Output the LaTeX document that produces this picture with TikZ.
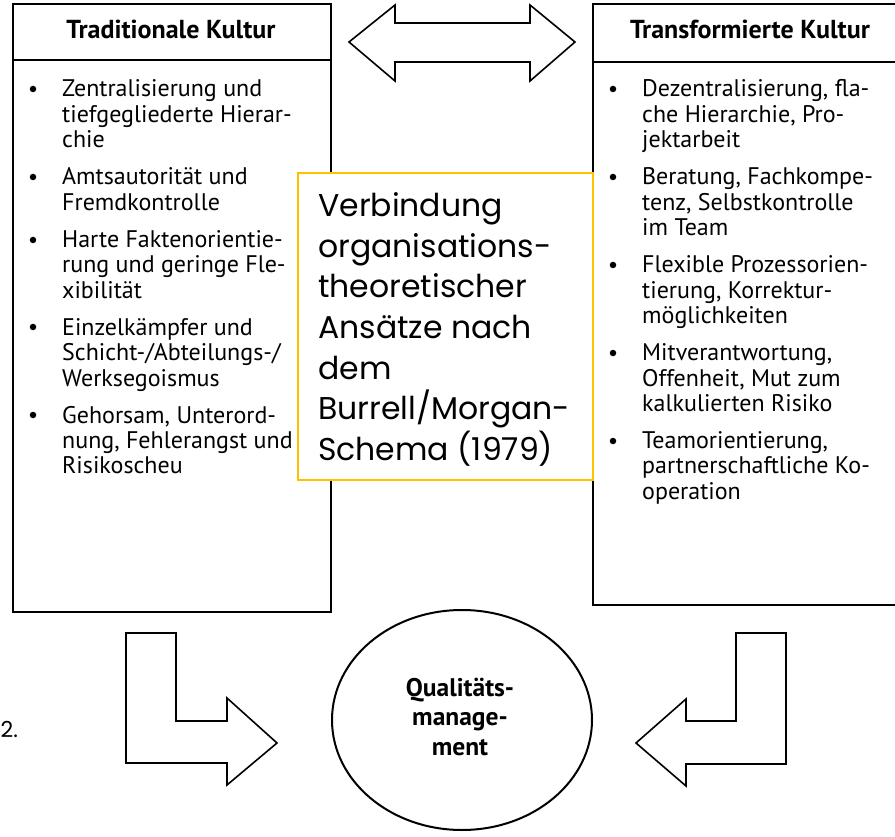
\documentclass[tikz,border=0pt]{standalone}
\usepackage{fontspec}
\setmainfont{PT Sans}
\newfontfamily\gothic{Poppins}
\usetikzlibrary{shapes.geometric}
\definecolor{frameyellow}{RGB}{255,192,0}
\begin{document}
\begin{tikzpicture}[x=1pt,y=-1pt,
  box/.style={draw=black,line width=2.2pt},
  blockarrow/.style={draw=black,line width=1.6pt,fill=white,line join=miter},
  item/.style={anchor=base west,inner sep=0pt,font=\fontsize{24}{25}\selectfont},
  head/.style={anchor=base,inner sep=0pt,font=\fontsize{26}{28}\selectfont\bfseries},
  dot/.style={circle,fill=black,inner sep=0pt,minimum size=6.5pt},
  yline/.style={anchor=base west,inner sep=0pt,font=\gothic\fontsize{31.5}{40}\selectfont},
  qline/.style={anchor=base,inner sep=0pt,font=\fontsize{25.5}{28}\selectfont\bfseries}]
\useasboundingbox (0,0) rectangle (895,837);

% left box
\draw[box] (13,4) rectangle (331,612);
\draw[box] (13,60) -- (331,60);
\node[head] (hl) at (171,39) {Traditionale Kultur};

% right box
\draw[box] (900,4) -- (593,4) -- (593,605) -- (900,605);
\draw[box] (593,62) -- (900,62);
\node[head] (hr) at (750,39) {Transformierte Kultur};

% left items
\node[dot] (bl1) at (33,89) {};
\node[item] (l1) at (62,97) {Zentralisierung und};
\node[item] (l2) at (62,122.3) {tiefgegliederte Hierar-};
\node[item] (l3) at (62,147.6) {chie};
\node[dot] (bl2) at (33,177) {};
\node[item] (l4) at (62,184.9) {Amtsautorität und};
\node[item] (l5) at (62,210.2) {Fremdkontrolle};
\node[dot] (bl3) at (33,240) {};
\node[item] (l6) at (62,247.5) {Harte Faktenorientie-};
\node[item] (l7) at (62,272.8) {rung und geringe Fle-};
\node[item] (l8) at (62,298.1) {xibilität};
\node[dot] (bl4) at (33,327) {};
\node[item] (l9) at (62,335.4) {Einzelkämpfer und};
\node[item] (l10) at (62,360.7) {Schicht-/Abteilungs-/};
\node[item] (l11) at (62,386) {Werksegoismus};
\node[dot] (bl5) at (33,415) {};
\node[item] (l12) at (62,423.3) {Gehorsam, Unterord-};
\node[item] (l13) at (62,448.6) {nung, Fehlerangst und};
\node[item] (l14) at (62,473.9) {Risikoscheu};

% right items
\node[dot] (br1) at (613,89) {};
\node[item] (r1) at (642,97) {Dezentralisierung, fla-};
\node[item] (r2) at (642,122.3) {che Hierarchie, Pro-};
\node[item] (r3) at (642,147.6) {jektarbeit};
\node[dot] (br2) at (613,177) {};
\node[item] (r4) at (642,184.9) {Beratung, Fachkompe-};
\node[item] (r5) at (642,210.2) {tenz, Selbstkontrolle};
\node[item] (r6) at (642,235.5) {im Team};
\node[dot] (br3) at (613,265) {};
\node[item] (r7) at (642,272.8) {Flexible Prozessorien-};
\node[item] (r8) at (642,298.1) {tierung, Korrektur-};
\node[item] (r9) at (642,323.4) {möglichkeiten};
\node[dot] (br4) at (613,353) {};
\node[item] (r10) at (642,360.7) {Mitverantwortung,};
\node[item] (r11) at (642,386) {Offenheit, Mut zum};
\node[item] (r12) at (642,411.3) {kalkulierten Risiko};
\node[dot] (br5) at (613,441) {};
\node[item] (r13) at (642,448.6) {Teamorientierung,};
\node[item] (r14) at (642,473.9) {partnerschaftliche Ko-};
\node[item] (r15) at (642,499.2) {operation};

% yellow box
\node[draw=frameyellow,line width=1.8pt,fill=white,anchor=north west,
      minimum width=295pt,minimum height=307pt,inner sep=0pt] (yb) at (297,172) {};
\node[yline] (y1) at (318,217) {Verbindung};
\node[yline] (y2) at (318,257.5) {organisations-};
\node[yline] (y3) at (318,298) {theoretischer};
\node[yline] (y4) at (318,338.5) {Ansätze nach};
\node[yline] (y5) at (318,379) {dem};
\node[yline] (y6) at (318,419.5) {Burrell/Morgan-};
\node[yline] (y7) at (318,460) {Schema (1979)};

% double arrow
\draw[blockarrow] (349,42) -- (395,5) -- (395,23) -- (530,23) -- (530,5) -- (575,42)
  -- (530,81) -- (530,62) -- (395,62) -- (395,81) -- cycle;

% bent arrows
\draw[blockarrow] (126,633) -- (176,633) -- (176,721) -- (227,721) -- (227,698) -- (277,743)
  -- (227,785) -- (227,763) -- (126,763) -- cycle;
\draw[blockarrow] (786,633) -- (736,633) -- (736,721) -- (686,721) -- (686,699) -- (636,743)
  -- (686,786) -- (686,764) -- (786,764) -- cycle;

% ellipse
\node[ellipse,draw=black,line width=2pt,fill=white,minimum width=260pt,minimum height=220pt,inner sep=0pt] (qm) at (462,720) {};
\node[qline] (q1) at (460,696) {Qualitäts-};
\node[qline] (q2) at (460,725) {manage-};
\node[qline] (q3) at (460,755) {ment};

\node[anchor=base west,inner sep=0pt,font=\gothic\fontsize{22}{26}\selectfont] (two) at (0.5,737) {2.};
\end{tikzpicture}
\end{document}
